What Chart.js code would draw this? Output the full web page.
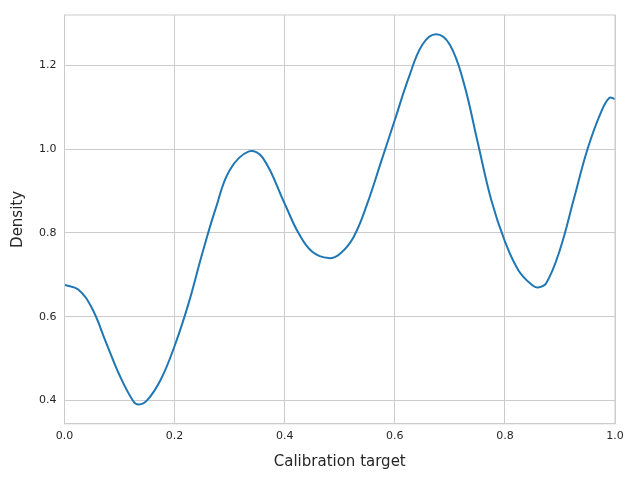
<!DOCTYPE html>
<html>
<head>
<meta charset="UTF-8">
<script src="https://cdn.jsdelivr.net/npm/chart.js"></script>
<style>
  html, body { margin: 0; padding: 0; background: #fff; }
  #wrap { width: 640px; height: 480px; }
</style>
</head>
<body>
<div id="wrap"><canvas id="c"></canvas></div>
<script>
const xs = [0, 0.025, 0.05, 0.075, 0.1, 0.125, 0.135, 0.15, 0.175, 0.2, 0.225, 0.25, 0.275, 0.3, 0.335, 0.36, 0.4, 0.425, 0.45, 0.48, 0.5, 0.525, 0.55, 0.575, 0.6, 0.625, 0.65, 0.675, 0.7, 0.725, 0.75, 0.775, 0.8, 0.825, 0.85, 0.86, 0.875, 0.9, 0.925, 0.95, 0.975, 0.99, 1.0];
const density = [0.676, 0.665, 0.62, 0.54, 0.46, 0.398, 0.39, 0.40, 0.45, 0.53, 0.63, 0.75, 0.86, 0.95, 0.995, 0.98, 0.87, 0.80, 0.755, 0.74, 0.75, 0.79, 0.87, 0.97, 1.07, 1.17, 1.25, 1.275, 1.25, 1.16, 1.02, 0.88, 0.78, 0.71, 0.675, 0.67, 0.68, 0.76, 0.88, 1.0, 1.09, 1.123, 1.12];
const xTicks = [0, 0.2, 0.4, 0.6, 0.8, 1.0];
const yTicks = [0.4, 0.6, 0.8, 1.0, 1.2];

const font = 'DejaVu Sans';
new Chart(document.getElementById('c'), {
  type: 'line',
  data: {
    datasets: [{
      data: xs.map((x, i) => ({ x: x, y: density[i] })),
      borderColor: '#1f77b4',
      borderWidth: 2,
      pointRadius: 0,
      tension: 0.4,
      fill: false
    }]
  },
  options: {
    responsive: true,
    maintainAspectRatio: false,
    animation: false,
    layout: { padding: { top: 15, right: 25, left: 5, bottom: 5 } },
    plugins: { legend: { display: false }, tooltip: { enabled: false } },
    scales: {
      x: {
        type: 'linear', min: 0, max: 1,
        afterBuildTicks: a => { a.ticks = xTicks.map(v => ({ value: v })); },
        ticks: { color: '#262626', font: { family: font, size: 11 }, padding: 6, callback: v => v.toFixed(1) },
        grid: { color: '#cccccc', drawTicks: false },
        border: { color: '#cccccc' },
        title: { display: true, text: 'Calibration target', color: '#262626', font: { family: font, size: 15 } }
      },
      y: {
        type: 'linear', min: 0.344, max: 1.321,
        afterBuildTicks: a => { a.ticks = yTicks.map(v => ({ value: v })); },
        ticks: { color: '#262626', font: { family: font, size: 11 }, padding: 8, callback: v => v.toFixed(1) },
        grid: { color: '#cccccc', drawTicks: false },
        border: { color: '#cccccc' },
        title: { display: true, text: 'Density', color: '#262626', font: { family: font, size: 15 } }
      }
    }
  },
  plugins: [{
    id: 'frame',
    afterDraw(ch) {
      const { ctx, chartArea: a } = ch;
      ctx.save();
      ctx.strokeStyle = '#cccccc';
      ctx.lineWidth = 1;
      ctx.strokeRect(a.left, a.top, a.right - a.left, a.bottom - a.top);
      ctx.restore();
    }
  }]
});
</script>
</body>
</html>
